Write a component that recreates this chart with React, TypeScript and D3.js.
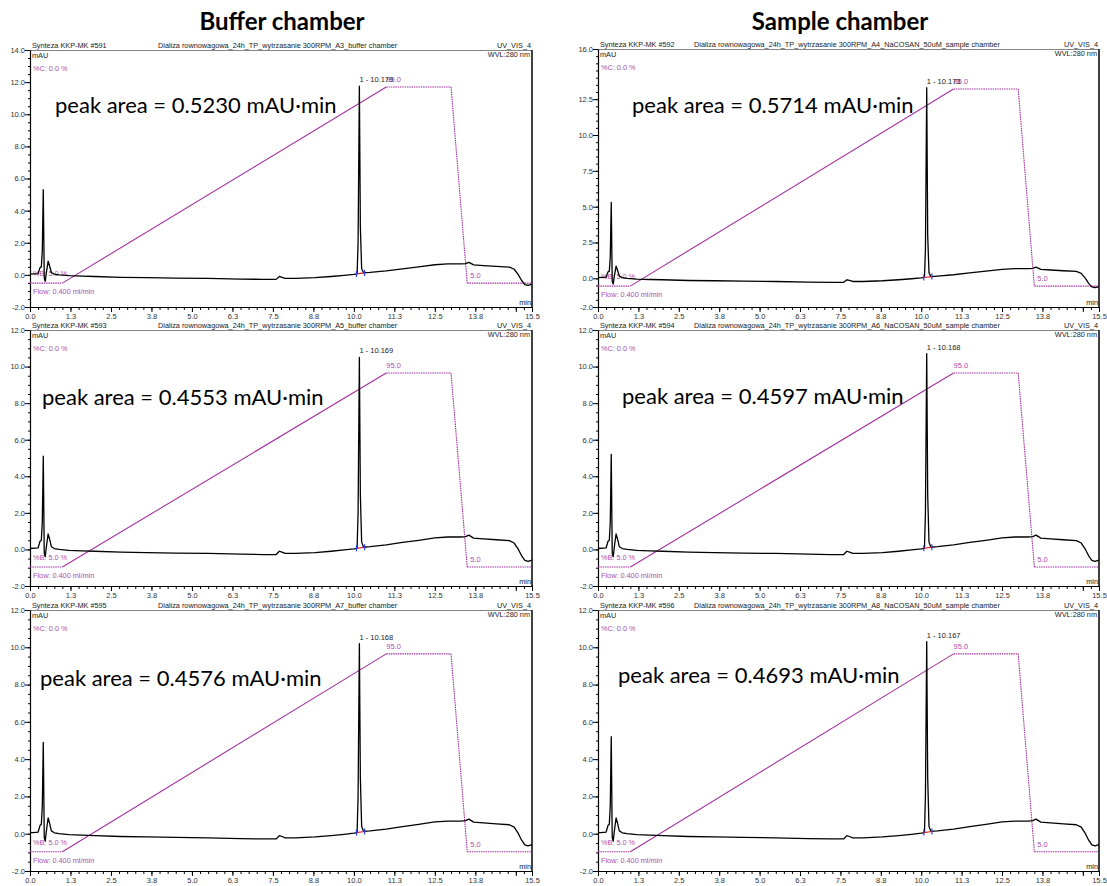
import React, { useEffect, useRef } from 'react';
import * as d3 from 'd3';

// chromatogram trace shared shape (min, mAU) - read from the buffer chamber A3 run
const traceTimes = [0.0, 0.25, 0.31, 0.35, 0.38, 0.41, 0.44, 0.47, 0.51, 0.56, 0.6, 0.66, 0.75, 0.9, 1.2, 1.6, 2.0, 2.8, 3.6, 4.5, 5.5, 6.5, 7.2, 7.6, 7.7, 7.78, 7.88, 8.2, 8.8, 9.3, 9.7, 10.0, 10.1, 10.13, 10.17, 10.2, 10.24, 10.3, 10.5, 11.0, 11.5, 12.0, 12.5, 12.9, 13.3, 13.45, 13.55, 13.7, 14.0, 14.4, 14.8, 14.95, 15.08, 15.18, 15.28, 15.38, 15.5];
const traceValues = [0.05, 0.08, 0.45, 0.5, 1.5, 5.3, -0.2, -0.4, 0.2, 0.85, 0.6, 0.15, 0.05, 0.0, -0.05, -0.08, -0.1, -0.15, -0.17, -0.2, -0.22, -0.26, -0.28, -0.28, -0.1, -0.15, -0.22, -0.22, -0.17, -0.1, -0.03, 0.03, 0.06, 2.0, 11.75, 3.0, 0.4, 0.12, 0.15, 0.25, 0.38, 0.5, 0.63, 0.68, 0.68, 0.7, 0.78, 0.62, 0.58, 0.53, 0.48, 0.35, 0.0, -0.35, -0.6, -0.65, -0.58];

// per run values
const runNumbers = ['#591', '#592', '#593', '#594', '#595', '#596'];
const runTitles = [
  'Dializa rownowagowa_24h_TP_wytrzasanie 300RPM_A3_buffer chamber',
  'Dializa rownowagowa_24h_TP_wytrzasanie 300RPM_A4_NaCOSAN_50uM_sample chamber',
  'Dializa rownowagowa_24h_TP_wytrzasanie 300RPM_A5_buffer chamber',
  'Dializa rownowagowa_24h_TP_wytrzasanie 300RPM_A6_NaCOSAN_50uM_sample chamber',
  'Dializa rownowagowa_24h_TP_wytrzasanie 300RPM_A7_buffer chamber',
  'Dializa rownowagowa_24h_TP_wytrzasanie 300RPM_A8_NaCOSAN_50uM_sample chamber'
];
const retentionTimes = ['10.179', '10.173', '10.169', '10.168', '10.168', '10.167'];
const peakAreas = ['0.5230', '0.5714', '0.4553', '0.4597', '0.4576', '0.4693'];
const firstPeakHeights = [5.3, 5.3, 5.1, 5.2, 4.9, 5.2];
const mainPeakHeights = [11.75, 13.3, 10.5, 10.7, 10.2, 10.3];

// gradient program (%B)
const gradientTimes = [0, 1.0, 11.0, 13.0, 13.5, 15.5];
const gradientB = [5, 5, 95, 95, 5, 5];

// axes
const xTickValues = [0, 1.25, 2.5, 3.75, 5, 6.25, 7.5, 8.75, 10, 11.25, 12.5, 13.75, 15.5];
const xTickLabels = ['0.0', '1.3', '2.5', '3.8', '5.0', '6.3', '7.5', '8.8', '10.0', '11.3', '12.5', '13.8', '15.5'];
const yTicksBufferTop = [-2, 0, 2, 4, 6, 8, 10, 12, 14];
const yTicksSampleTop = [-2, 0, 2.5, 5, 7.5, 10, 12.5, 16];
const yTicksLower = [-2, 0, 2, 4, 6, 8, 10, 12];
const yTickSets = [yTicksBufferTop, yTicksSampleTop, yTicksLower, yTicksLower, yTicksLower, yTicksLower];
const yDomains = [[-2, 14], [-2, 16], [-2, 12], [-2, 12], [-2, 12], [-2, 12]];

const columnTitles = ['Buffer chamber', 'Sample chamber'];

// layout (pixels)
const W = 1107;
const H = 886;
const boxes = [
  { x0: 30, x1: 532, y0: 50, y1: 307 },
  { x0: 598, x1: 1099, y0: 49, y1: 307 },
  { x0: 30, x1: 532, y0: 330, y1: 586 },
  { x0: 598, x1: 1099, y0: 330, y1: 586 },
  { x0: 30, x1: 532, y0: 610, y1: 871 },
  { x0: 598, x1: 1099, y0: 610, y1: 871 }
];
// where 5 %B and 95 %B sit, as a fraction of the panel height from its bottom
const gradFrac = [[0.093, 0.856], [0.081, 0.845], [0.074, 0.832], [0.074, 0.832], [0.074, 0.832], [0.074, 0.832]];
const areaPos = [[55, 113], [632, 113], [42, 405], [622, 404], [40, 686], [618, 683]];
const titleDx = [128, 96, 128, 96, 128, 96];

const PURPLE = '#a3329f';
const PURPLE_TXT = '#b04cb0';
const SMALL = 'Liberation Sans, Arial, sans-serif';

function drawPanel(svg, i) {
  const b = boxes[i];
  const h = b.y1 - b.y0;
  const g = svg.append('g');
  const x = d3.scaleLinear().domain([0, 15.5]).range([b.x0, b.x1]);
  const y = d3.scaleLinear().domain(yDomains[i]).range([b.y1, b.y0]);
  const yg = d3.scaleLinear().domain([5, 95]).range([b.y1 - gradFrac[i][0] * h, b.y1 - gradFrac[i][1] * h]);

  // frame
  g.append('line').attr('x1', b.x0).attr('x2', b.x1).attr('y1', b.y0 + 0.5).attr('y2', b.y0 + 0.5)
    .attr('stroke', '#666').attr('stroke-width', 0.8);
  g.append('line').attr('x1', b.x1).attr('x2', b.x1).attr('y1', b.y0).attr('y2', b.y1)
    .attr('stroke', '#000').attr('stroke-width', 1.5);

  // x axis
  const xMinor = d3.range(0, 15.51, 0.25);
  const xa = g.append('g').attr('transform', `translate(0,${b.y1})`)
    .call(d3.axisBottom(x).tickValues(xMinor).tickSize(3).tickSizeOuter(0).tickFormat(() => ''));
  xa.select('.domain').attr('stroke', '#000').attr('stroke-width', 1.2);
  const xb = g.append('g').attr('transform', `translate(0,${b.y1})`)
    .call(d3.axisBottom(x).tickValues(xTickValues.concat([15])).tickSize(5).tickSizeOuter(0)
      .tickFormat((d) => { const k = xTickValues.indexOf(d); return k >= 0 ? xTickLabels[k] : ''; }));
  xb.select('.domain').remove();
  xb.selectAll('text').attr('font-size', 7.5).attr('font-family', SMALL).attr('fill', '#333').attr('dy', '0.55em');

  // y axis
  const yd = yDomains[i];
  const yMinor = d3.range(yd[0], yd[1] + 0.01, 0.5);
  const ya = g.append('g').attr('transform', `translate(${b.x0},0)`)
    .call(d3.axisLeft(y).tickValues(yMinor).tickSize(2).tickSizeOuter(0).tickFormat(() => ''));
  ya.select('.domain').attr('stroke', '#000').attr('stroke-width', 1.2);
  const yb = g.append('g').attr('transform', `translate(${b.x0},0)`)
    .call(d3.axisLeft(y).tickValues(yTickSets[i]).tickSize(5).tickSizeOuter(0).tickFormat((d) => d.toFixed(1)));
  yb.select('.domain').remove();
  yb.selectAll('text').attr('font-size', 7.5).attr('font-family', SMALL).attr('fill', '#333').attr('x', -5);

  // header texts
  const txt = (tx, ty, s, anchor, color, size) => g.append('text').attr('x', tx).attr('y', ty)
    .attr('text-anchor', anchor).attr('font-family', SMALL).attr('font-size', size || 7.3)
    .attr('fill', color || '#222').text(s);
  txt(b.x0 + 2, b.y0 - 2, 'Synteza KKP-MK ' + runNumbers[i], 'start');
  txt(b.x0 + titleDx[i], b.y0 - 2, runTitles[i], 'start');
  txt(b.x1 - 1, b.y0 - 2, 'UV_VIS_4', 'end');
  txt(b.x1 - 2, b.y0 + 7, 'WVL:280 nm', 'end');
  txt(b.x0 + 2, b.y0 + 8, 'mAU', 'start');
  txt(b.x1 - 1, b.y1 - 2, 'min', 'end');
  txt(b.x0 + 3, b.y0 + 21, '%C: 0.0 %', 'start', PURPLE_TXT);

  // gradient
  const gpts = gradientTimes.map((t, k) => [x(t), yg(gradientB[k])]);
  for (let k = 0; k < gpts.length - 1; k++) {
    g.append('line').attr('x1', gpts[k][0]).attr('y1', gpts[k][1]).attr('x2', gpts[k + 1][0]).attr('y2', gpts[k + 1][1])
      .attr('stroke', PURPLE).attr('stroke-width', 1.1)
      .attr('stroke-dasharray', k === 1 ? null : '1.5,0.8');
  }
  txt(x(gradientTimes[2]), yg(gradientB[2]) - 5, gradientB[2].toFixed(1), 'start', PURPLE_TXT, 7.5);
  txt(x(gradientTimes[4]) + 3, yg(gradientB[4]) - 5, gradientB[4].toFixed(1), 'start', PURPLE_TXT, 7.5);
  txt(b.x0 + 3, yg(gradientB[0]) - 7, '%B: ' + gradientB[0].toFixed(1) + ' %', 'start', PURPLE_TXT);
  txt(b.x0 + 3, yg(gradientB[0]) + 11, 'Flow: 0.400 ml/min', 'start', PURPLE_TXT);

  // trace
  const vals = traceValues.slice();
  vals[traceTimes.indexOf(0.41)] = firstPeakHeights[i];
  vals[traceTimes.indexOf(10.17)] = mainPeakHeights[i];
  const line = d3.line().x((d) => x(d[0])).y((d) => y(d[1]));
  g.append('path').attr('d', line(traceTimes.map((t, k) => [t, vals[k]])))
    .attr('fill', 'none').attr('stroke', '#000').attr('stroke-width', 1.3).attr('stroke-linejoin', 'round');

  // integration baseline marks
  const bl0 = vals[traceTimes.indexOf(10.1)];
  const bl1 = vals[traceTimes.indexOf(10.3)];
  g.append('line').attr('x1', x(10.08)).attr('x2', x(10.33)).attr('y1', y(bl0)).attr('y2', y(bl1))
    .attr('stroke', '#e0201c').attr('stroke-width', 1.2);
  [[10.08, bl0], [10.33, bl1]].forEach((p) => {
    g.append('line').attr('x1', x(p[0])).attr('x2', x(p[0])).attr('y1', y(p[1]) - 3).attr('y2', y(p[1]) + 3)
      .attr('stroke', '#2a3cf0').attr('stroke-width', 1.2);
  });

  // peak label
  txt(x(10.17), y(mainPeakHeights[i]) - 4, '1 - ' + retentionTimes[i], 'start', '#222', 7.5);

  // peak area annotation
  g.append('text').attr('x', areaPos[i][0]).attr('y', areaPos[i][1])
    .attr('font-family', 'Lato, Open Sans, sans-serif').attr('font-size', 22).attr('fill', '#000')
    .text('peak area = ' + peakAreas[i] + ' mAU\u00b7min');
}

export default function App() {
  const ref = useRef(null);
  useEffect(() => {
    const svg = d3.select(ref.current);
    svg.selectAll('*').remove();
    svg.append('rect').attr('width', W).attr('height', H).attr('fill', '#fff');
    columnTitles.forEach((t, k) => {
      svg.append('text').attr('x', k === 0 ? 282 : 840).attr('y', 30).attr('text-anchor', 'middle')
        .attr('font-family', 'Lato, Open Sans, sans-serif').attr('font-weight', 'bold').attr('font-size', 24)
        .text(t);
    });
    for (let i = 0; i < boxes.length; i++) drawPanel(svg, i);
  }, []);
  return (
    <svg ref={ref} width={W} height={H} style={{ position: 'absolute', left: 0, top: 0 }} />
  );
}
